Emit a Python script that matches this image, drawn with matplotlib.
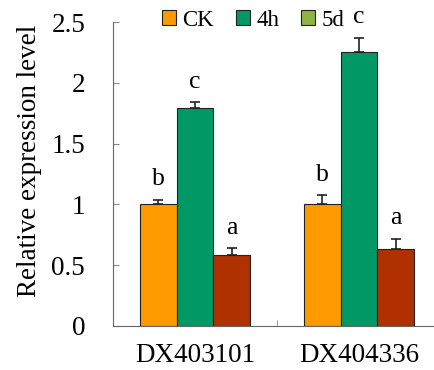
import numpy as np
import matplotlib
matplotlib.use('Agg')
import matplotlib.pyplot as plt
from matplotlib.patches import Patch

genes = ['DX403101', 'DX404336']
series = ['CK', '4h', '5d']
ck = [1.0, 1.0]
h4 = [1.79, 2.25]
d5 = [0.58, 0.63]
ck_err = [0.04, 0.075]
h4_err = [0.05, 0.12]
d5_err = [0.06, 0.085]
letters = [['b', 'c', 'a'], ['b', 'c', 'a']]

bar_colors = ['#FF9900', '#009966', '#B03000']
legend_colors = ['#FF9900', '#009966', '#8DB443']

plt.rcParams['font.family'] = ['Liberation Serif', 'DejaVu Serif']

fig = plt.figure(figsize=(4.34, 3.70), dpi=100)
ax = fig.add_axes([0.2604, 0.119, 0.7396, 0.8215])

x = np.arange(len(genes))
w = 0.225
vals = [ck, h4, d5]
errs = [ck_err, h4_err, d5_err]
for i in range(3):
    pos = x + (i - 1) * w
    ax.bar(pos, vals[i], w, color=bar_colors[i], edgecolor='#222222', linewidth=0.8)
    ax.errorbar(pos, vals[i], yerr=[np.zeros(2), errs[i]], fmt='none',
                ecolor='#222222', elinewidth=1.2, capsize=3.5, capthick=1.2)
    for j in range(2):
        ax.text(pos[j], vals[i][j] + errs[i][j] + 0.12, letters[j][i],
                ha='center', va='baseline', fontsize=18.5)

ax.set_xlim(-0.5, 1.457)
ax.set_ylim(0, 2.5)
ax.set_yticks([0, 0.5, 1, 1.5, 2, 2.5])
ax.set_yticklabels(['0', '0.5', '1', '1.5', '2', '2.5'])
ax.set_xticks(x)
ax.set_xticklabels(genes)
ax.set_xticks([0.5], minor=True)
ax.tick_params(axis='x', which='major', length=0, pad=12, labelsize=19.5)
ax.tick_params(axis='x', which='minor', direction='in', length=4, color='#888888')
ax.tick_params(axis='y', direction='in', length=4, color='#888888', labelsize=19.5, pad=20)
ax.spines['top'].set_visible(False)
ax.spines['right'].set_visible(False)
ax.spines['left'].set_color('#666666')
ax.spines['bottom'].set_color('#666666')
ax.set_ylabel('Relative expression level', fontsize=19.5, labelpad=7)
ax.yaxis.label.set_y(0.543)

handles = [Patch(facecolor=c, edgecolor='#222222', linewidth=0.8) for c in legend_colors]
fig.legend(handles, series, loc='center left', bbox_to_anchor=(0.373, 0.945), ncol=3,
           frameon=False, fontsize=16.5, handlelength=0.6, handleheight=0.6,
           handletextpad=0.3, columnspacing=0.95, borderpad=0, borderaxespad=0)

fig.savefig('out.png', dpi=100)
